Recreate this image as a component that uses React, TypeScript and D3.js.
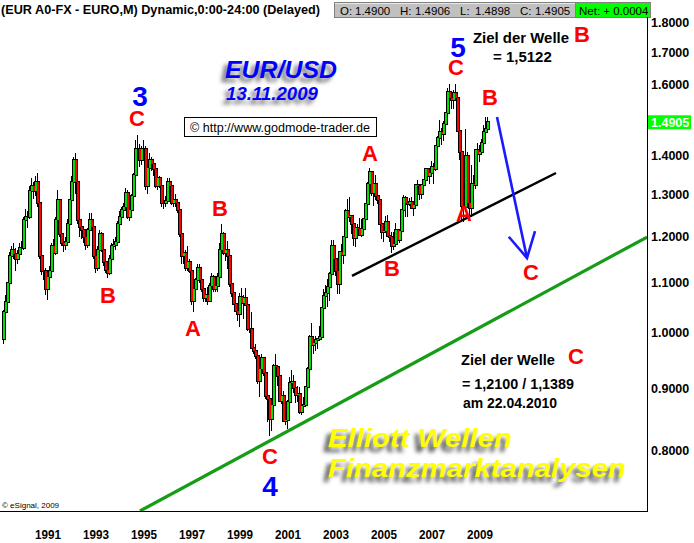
import React from "react";
import * as d3 from "d3";

// first candle: September 1989 (synthetic EUR before 1999), monthly candles
const firstYear = 1989;
const firstMonth = 9;
const firstOpen = 0.988;

const closes = [
  1.040, 1.060, 1.099, 1.157,
  1.171, 1.161, 1.150, 1.161, 1.175, 1.175, 1.238, 1.246, 1.246, 1.308, 1.322, 1.308,
  1.330, 1.278, 1.157, 1.124, 1.124, 1.087, 1.111, 1.124, 1.178, 1.164, 1.238, 1.287,
  1.207, 1.185, 1.182, 1.189, 1.230, 1.287, 1.330, 1.387, 1.330, 1.238, 1.222, 1.215,
  1.200, 1.182, 1.215, 1.238, 1.222, 1.157, 1.131, 1.171, 1.207, 1.171, 1.144, 1.127,
  1.121, 1.150, 1.178, 1.182, 1.189, 1.230, 1.246, 1.262, 1.270, 1.304, 1.246, 1.262,
  1.295, 1.349, 1.417, 1.417, 1.387, 1.417, 1.417, 1.322, 1.368, 1.387, 1.377, 1.363,
  1.322, 1.340, 1.322, 1.278, 1.278, 1.283, 1.330, 1.322, 1.278, 1.287, 1.278, 1.262,
  1.207, 1.157, 1.164, 1.131, 1.144, 1.124, 1.063, 1.087, 1.105, 1.131, 1.105, 1.087,
  1.069, 1.075, 1.063, 1.093, 1.111, 1.087, 1.093, 1.111, 1.171, 1.207, 1.164, 1.171,
  1.157, 1.098, 1.079, 1.057, 1.043, 1.036, 1.070, 1.058, 1.069, 1.054, 1.008, 1.007,
  0.972, 0.966, 0.957, 0.912, 0.933, 0.953, 0.927, 0.888, 0.883, 0.850, 0.873, 0.939,
  0.937, 0.921, 0.879, 0.888, 0.846, 0.848, 0.877, 0.910, 0.911, 0.901, 0.889, 0.890,
  0.860, 0.870, 0.872, 0.902, 0.934, 0.992, 0.977, 0.981, 0.986, 0.989, 0.993, 1.049,
  1.073, 1.078, 1.091, 1.118, 1.180, 1.150, 1.125, 1.098, 1.165, 1.158, 1.199, 1.260,
  1.246, 1.247, 1.230, 1.198, 1.220, 1.217, 1.203, 1.217, 1.242, 1.276, 1.327, 1.356,
  1.304, 1.326, 1.297, 1.287, 1.229, 1.210, 1.213, 1.233, 1.202, 1.199, 1.179, 1.184,
  1.215, 1.192, 1.212, 1.263, 1.292, 1.279, 1.276, 1.281, 1.268, 1.274, 1.324, 1.320,
  1.302, 1.323, 1.336, 1.365, 1.345, 1.354, 1.369, 1.364, 1.426, 1.448, 1.464, 1.459,
  1.486, 1.518, 1.579, 1.560, 1.555, 1.575, 1.560, 1.466, 1.409, 1.273, 1.270, 1.397,
  1.280, 1.266, 1.325, 1.324, 1.415, 1.403, 1.410, 1.434, 1.464, 1.472, 1.4905,
];

const highs = [
  1.045, 1.075, 1.100, 1.165,
  1.180, 1.185, 1.175, 1.170, 1.185, 1.190, 1.245, 1.265, 1.260, 1.320, 1.340, 1.330,
  1.345, 1.353, 1.285, 1.165, 1.140, 1.130, 1.115, 1.135, 1.185, 1.195, 1.245, 1.310,
  1.290, 1.225, 1.200, 1.200, 1.240, 1.290, 1.345, 1.395, 1.407, 1.350, 1.250, 1.240,
  1.225, 1.205, 1.220, 1.255, 1.255, 1.230, 1.165, 1.180, 1.215, 1.210, 1.175, 1.150,
  1.140, 1.160, 1.185, 1.195, 1.200, 1.235, 1.260, 1.270, 1.280, 1.315, 1.310, 1.270,
  1.300, 1.355, 1.440, 1.454, 1.430, 1.425, 1.440, 1.425, 1.370, 1.405, 1.395, 1.380,
  1.365, 1.345, 1.345, 1.325, 1.295, 1.295, 1.340, 1.340, 1.325, 1.295, 1.300, 1.285,
  1.265, 1.215, 1.175, 1.170, 1.178, 1.150, 1.125, 1.095, 1.110, 1.140, 1.140, 1.105,
  1.100, 1.085, 1.090, 1.100, 1.120, 1.115, 1.105, 1.120, 1.185, 1.230, 1.210, 1.185,
  1.190, 1.160, 1.106, 1.089, 1.080, 1.054, 1.079, 1.088, 1.074, 1.089, 1.061, 1.027,
  1.041, 0.989, 0.980, 0.965, 0.936, 0.961, 0.955, 0.930, 0.902, 0.885, 0.871, 0.942,
  0.960, 0.940, 0.930, 0.905, 0.895, 0.866, 0.880, 0.919, 0.932, 0.923, 0.906, 0.905,
  0.902, 0.879, 0.885, 0.904, 0.938, 0.996, 1.019, 0.992, 0.995, 0.990, 1.014, 1.049,
  1.087, 1.094, 1.108, 1.123, 1.193, 1.193, 1.164, 1.145, 1.168, 1.183, 1.199, 1.265,
  1.290, 1.293, 1.246, 1.241, 1.228, 1.229, 1.244, 1.240, 1.243, 1.279, 1.330, 1.367,
  1.356, 1.327, 1.348, 1.309, 1.294, 1.236, 1.224, 1.249, 1.251, 1.213, 1.211, 1.211,
  1.232, 1.216, 1.216, 1.264, 1.298, 1.295, 1.283, 1.292, 1.293, 1.277, 1.324, 1.337,
  1.323, 1.325, 1.338, 1.368, 1.364, 1.353, 1.385, 1.380, 1.428, 1.453, 1.497, 1.474,
  1.493, 1.518, 1.590, 1.602, 1.582, 1.584, 1.604, 1.565, 1.487, 1.430, 1.301, 1.472,
  1.410, 1.305, 1.374, 1.349, 1.416, 1.434, 1.429, 1.444, 1.484, 1.506, 1.506,
];

const lows = [
  0.980, 1.030, 1.055, 1.090,
  1.140, 1.150, 1.125, 1.140, 1.150, 1.160, 1.170, 1.220, 1.220, 1.240, 1.290, 1.290,
  1.295, 1.270, 1.150, 1.115, 1.105, 1.075, 1.065, 1.095, 1.120, 1.155, 1.160, 1.230,
  1.200, 1.180, 1.165, 1.170, 1.185, 1.225, 1.280, 1.320, 1.300, 1.230, 1.200, 1.195,
  1.185, 1.170, 1.175, 1.210, 1.215, 1.150, 1.120, 1.125, 1.165, 1.165, 1.135, 1.120,
  1.110, 1.115, 1.145, 1.165, 1.170, 1.185, 1.225, 1.235, 1.250, 1.265, 1.240, 1.235,
  1.250, 1.290, 1.340, 1.395, 1.370, 1.375, 1.395, 1.310, 1.300, 1.360, 1.360, 1.345,
  1.315, 1.310, 1.315, 1.270, 1.265, 1.270, 1.280, 1.310, 1.275, 1.270, 1.270, 1.255,
  1.200, 1.140, 1.140, 1.125, 1.125, 1.120, 1.055, 1.040, 1.075, 1.095, 1.100, 1.080,
  1.060, 1.060, 1.055, 1.060, 1.090, 1.080, 1.080, 1.080, 1.105, 1.165, 1.160, 1.145,
  1.129, 1.091, 1.071, 1.054, 1.042, 1.022, 1.011, 1.039, 1.026, 1.052, 1.004, 1.000,
  0.970, 0.960, 0.952, 0.908, 0.885, 0.930, 0.921, 0.883, 0.844, 0.823, 0.830, 0.868,
  0.918, 0.905, 0.878, 0.874, 0.844, 0.840, 0.834, 0.874, 0.899, 0.893, 0.875, 0.877,
  0.858, 0.856, 0.865, 0.872, 0.898, 0.926, 0.970, 0.960, 0.966, 0.969, 0.986, 0.986,
  1.034, 1.069, 1.050, 1.062, 1.118, 1.142, 1.114, 1.077, 1.076, 1.153, 1.140, 1.196,
  1.238, 1.234, 1.206, 1.180, 1.176, 1.199, 1.202, 1.200, 1.205, 1.228, 1.269, 1.325,
  1.295, 1.273, 1.287, 1.276, 1.228, 1.195, 1.187, 1.211, 1.199, 1.187, 1.164, 1.170,
  1.183, 1.183, 1.185, 1.200, 1.254, 1.246, 1.246, 1.272, 1.264, 1.248, 1.270, 1.310,
  1.286, 1.289, 1.307, 1.330, 1.340, 1.326, 1.347, 1.326, 1.358, 1.405, 1.444, 1.427,
  1.439, 1.455, 1.513, 1.553, 1.529, 1.529, 1.558, 1.465, 1.388, 1.233, 1.233, 1.258,
  1.275, 1.246, 1.245, 1.289, 1.314, 1.375, 1.383, 1.401, 1.425, 1.458, 1.470,
];

const priceTicks = [1.8, 1.7, 1.6, 1.4, 1.3, 1.2, 1.1, 1.0, 0.9, 0.8];
const yearTicks = [1991, 1993, 1995, 1997, 1999, 2001, 2003, 2005, 2007, 2009];
const lastPrice = 1.4905;
const quoteNames = ["O:", "H:", "L:", "C:"];
const quoteValues = ["1.4900", "1.4906", "1.4898", "1.4905"];
const netChange = "Net: + 0.0004";
const headerTitle = "(EUR A0-FX - EURO,M) Dynamic,0:00-24:00 (Delayed)";

// annotation anchors in chart coordinates: m = months after Jan 1991, v = price
const waveLabels = [
  { t: "3", m: 52.5, v: 1.566, c: "blue" },
  { t: "C", m: 51, v: 1.503, c: "red" },
  { t: "B", m: 36.5, v: 1.074, c: "red" },
  { t: "A", m: 79, v: 1.009, c: "red" },
  { t: "B", m: 92.5, v: 1.267, c: "red" },
  { t: "C", m: 117.5, v: 0.792, c: "red" },
  { t: "4", m: 117.5, v: 0.748, c: "blue" },
  { t: "A", m: 167.5, v: 1.406, c: "red" },
  { t: "B", m: 178.5, v: 1.131, c: "red" },
  { t: "5", m: 211.5, v: 1.72, c: "blue" },
  { t: "C", m: 210.5, v: 1.655, c: "red" },
  { t: "A", m: 214.5, v: 1.2545, c: "red" },
  { t: "B", m: 227.5, v: 1.564, c: "red" },
  { t: "C", m: 248, v: 1.1223, c: "red" },
  { t: "B", m: 273.5, v: 1.762, c: "red" },
  { t: "C", m: 270.5, v: 0.957, c: "red" },
];
const greenTrend = [
  { m: 52.5, v: 0.7135 },
  { m: 306, v: 1.199 },
];
const blackTrend = [
  { m: 158.5, v: 1.114 },
  { m: 260.5, v: 1.354 },
];
const blueArrow = [
  { m: 231, v: 1.5055 },
  { m: 246, v: 1.1525 },
];

const FONT = "'Liberation Sans', Arial, sans-serif";

export default function App() {
  const W = 694;
  const H = 543;
  const plotRight = 647;
  const plotTop = 17;
  const plotBottom = 511;

  const x = d3.scaleLinear().domain([-17.5, 306]).range([0, plotRight]);
  const y = d3.scaleLog().domain([0.7135, 1.8196]).range([plotBottom, plotTop]);

  const startM = (firstYear - 1991) * 12 + (firstMonth - 1);
  const candles = closes.map((c, i) => {
    const o = i === 0 ? firstOpen : closes[i - 1];
    const cx = Math.round(x(startM + i));
    const top = Math.round(y(Math.max(o, c)));
    const bot = Math.round(y(Math.min(o, c)));
    return { cx, top, bot, hy: y(highs[i]), ly: y(lows[i]), up: c >= o };
  });

  const line = d3
    .line<{ m: number; v: number }>()
    .x((d) => x(d.m))
    .y((d) => y(d.v));

  // arrow head
  const a0 = { x: x(blueArrow[0].m), y: y(blueArrow[0].v) };
  const a1 = { x: x(blueArrow[1].m), y: y(blueArrow[1].v) };
  const ang = Math.atan2(a0.y - a1.y, a0.x - a1.x);
  const headLen = 28;
  const spread = 0.5;
  const h1 = { x: a1.x + headLen * Math.cos(ang + spread), y: a1.y + headLen * Math.sin(ang + spread) };
  const h2 = { x: a1.x + headLen * Math.cos(ang - spread), y: a1.y + headLen * Math.sin(ang - spread) };

  return (
    <svg
      width={W}
      height={H}
      style={{ position: "absolute", left: 0, top: 0, background: "#fff" }}
      fontFamily={FONT}
    >
      <defs>
        <clipPath id="plot">
          <rect x={0} y={plotTop} width={plotRight} height={plotBottom - plotTop} />
        </clipPath>
        <filter id="blur" x="-20%" y="-50%" width="140%" height="200%">
          <feGaussianBlur stdDeviation="2" />
        </filter>
      </defs>
      <rect x={0} y={0} width={W} height={H} fill="#fff" />

      {/* header */}
      <text x={1} y={14} fontSize={13} fontWeight="bold" textLength={319} lengthAdjust="spacingAndGlyphs">
        {headerTitle}
      </text>
      <rect x={334.5} y={2.5} width={241} height={15} fill="#c0c0c0" stroke="#808080" />
      <line x1={335} y1={3.5} x2={575} y2={3.5} stroke="#e8e8e8" />
      <rect x={575.5} y={2.5} width={75} height={15} fill="#00ff00" stroke="#808080" />
      {quoteNames.map((q, i) => (
        <g key={q}>
          <text x={340 + i * 60} y={14.5} fontSize={11.5}>{q}</text>
          <text x={355 + i * 60} y={14.5} fontSize={11.5}>{quoteValues[i]}</text>
        </g>
      ))}
      <text x={579} y={14.5} fontSize={11.5}>{netChange}</text>

      {/* candles: wicks, outlines, then bodies */}
      <g clipPath="url(#plot)" shapeRendering="crispEdges">
        {candles.map((d, i) => (
          <rect key={"w" + i} x={d.cx} y={d.hy} width={1} height={Math.max(1, d.ly - d.hy)} fill="#000" />
        ))}
        {candles.map((d, i) => (
          <rect key={"o" + i} x={d.cx - 1} y={d.top - 1} width={4} height={d.bot - d.top + 2} fill="#000" />
        ))}
        {candles.map((d, i) =>
          d.bot - d.top > 0 ? (
            <rect
              key={"b" + i}
              x={d.cx}
              y={d.top}
              width={2}
              height={d.bot - d.top}
              fill={d.up ? "#00e000" : "#ff0000"}
            />
          ) : null
        )}
      </g>

      {/* trend lines */}
      <g clipPath="url(#plot)">
        <path d={line(greenTrend) || ""} stroke="#169c16" strokeWidth={3.2} fill="none" />
        <path d={line(blackTrend) || ""} stroke="#000" strokeWidth={2.4} fill="none" />
        <path d={`M${a0.x},${a0.y}L${a1.x},${a1.y}`} stroke="#1a1aff" strokeWidth={2.6} fill="none" />
        <path
          d={`M${h1.x},${h1.y}L${a1.x},${a1.y}L${h2.x},${h2.y}`}
          stroke="#1a1aff"
          strokeWidth={2.6}
          fill="none"
          strokeLinejoin="miter"
        />
      </g>

      {/* frame */}
      <line x1={plotRight + 0.5} x2={plotRight + 0.5} y1={plotTop} y2={plotBottom + 1} stroke="#000" />
      <line x1={0} x2={plotRight + 1} y1={plotBottom + 0.5} y2={plotBottom + 0.5} stroke="#000" />

      {/* right axis */}
      {priceTicks.map((t) => (
        <text key={t} x={651} y={y(t)} dy="0.36em" fontSize={12.5} fontWeight="bold">
          {t.toFixed(4)}
        </text>
      ))}
      <rect x={648} y={y(lastPrice) - 7} width={43} height={14} fill="#00ff00" />
      <text x={651} y={y(lastPrice)} dy="0.36em" fontSize={12.5} fontWeight="bold" fill="#fff">
        {lastPrice.toFixed(4)}
      </text>

      {/* bottom axis */}
      {yearTicks.map((yr) => (
        <text key={yr} x={x((yr - 1991) * 12)} y={539} fontSize={12.5} fontWeight="bold" textLength={26} lengthAdjust="spacingAndGlyphs">
          {yr}
        </text>
      ))}

      <text x={2} y={508} fontSize={8}>© eSignal, 2009</text>

      {/* wave labels */}
      {waveLabels.map((w, i) => (
        <text
          key={i}
          x={x(w.m)}
          y={y(w.v)}
          dy="0.36em"
          textAnchor="middle"
          fontSize={w.c === "blue" ? 28 : 22}
          fontWeight="bold"
          fill={w.c === "blue" ? "#0000ff" : "#ff0000"}
        >
          {w.t}
        </text>
      ))}

      {/* target texts */}
      <text x={473} y={43} fontSize={15} fontWeight="bold" textLength={96} lengthAdjust="spacingAndGlyphs">Ziel der Welle</text>
      <text x={493} y={62} fontSize={15} fontWeight="bold">= 1,5122</text>
      <text x={461} y={365} fontSize={15} fontWeight="bold" textLength={94} lengthAdjust="spacingAndGlyphs">Ziel der Welle</text>
      <text x={462} y={389} fontSize={15} fontWeight="bold" textLength={112} lengthAdjust="spacingAndGlyphs">= 1,2100 / 1,1389</text>
      <text x={463} y={408} fontSize={15} fontWeight="bold" textLength={94} lengthAdjust="spacingAndGlyphs">am 22.04.2010</text>

      {/* title */}
      <g fontStyle="italic" fontWeight="bold">
        <text x={221} y={82} fontSize={24} fill="#666" filter="url(#blur)" textLength={112} lengthAdjust="spacingAndGlyphs">EUR/USD</text>
        <text x={225} y={78} fontSize={24} fill="#0000ff" textLength={112} lengthAdjust="spacingAndGlyphs">EUR/USD</text>
        <text x={222} y={104} fontSize={18} fill="#666" filter="url(#blur)" textLength={92} lengthAdjust="spacingAndGlyphs">13.11.2009</text>
        <text x={226} y={100} fontSize={18} fill="#0000ff" textLength={92} lengthAdjust="spacingAndGlyphs">13.11.2009</text>
      </g>
      <rect x={184.5} y={117.5} width={192} height={19} fill="#fff" stroke="#000" />
      <text x={190} y={132} fontSize={12.5} textLength={180} lengthAdjust="spacingAndGlyphs">© http://www.godmode-trader.de</text>

      {/* footer title */}
      <g fontStyle="italic" fontWeight="bold">
        <text x={323} y={452} fontSize={26} fill="#555" filter="url(#blur)" textLength={184} lengthAdjust="spacingAndGlyphs">Elliott Wellen</text>
        <text x={328} y={447} fontSize={26} fill="#ffff00" textLength={184} lengthAdjust="spacingAndGlyphs">Elliott Wellen</text>
        <text x={323} y={482} fontSize={26} fill="#555" filter="url(#blur)" textLength={298} lengthAdjust="spacingAndGlyphs">Finanzmarktanalysen</text>
        <text x={328} y={477} fontSize={26} fill="#ffff00" textLength={298} lengthAdjust="spacingAndGlyphs">Finanzmarktanalysen</text>
      </g>
    </svg>
  );
}
